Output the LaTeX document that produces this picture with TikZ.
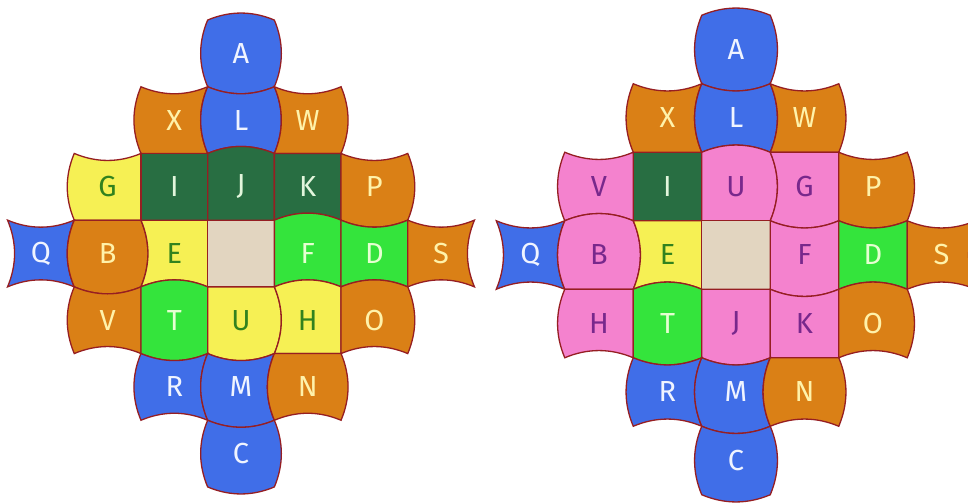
\documentclass[tikz,border=0pt]{standalone}
\usepackage{fontspec}
\setmainfont{Fira Sans}
\definecolor{tblue}{RGB}{64,110,232}
\definecolor{torange}{RGB}{218,128,22}
\definecolor{tyellow}{RGB}{246,240,84}
\definecolor{tdkgreen}{RGB}{40,110,66}
\definecolor{tgreen}{RGB}{52,228,60}
\definecolor{tpink}{RGB}{244,130,206}
\definecolor{ttan}{RGB}{226,213,192}
\definecolor{tedge}{RGB}{150,30,34}
\definecolor{lwhite}{RGB}{240,244,255}
\definecolor{lcream}{RGB}{255,242,170}
\definecolor{lmint}{RGB}{226,246,220}
\definecolor{lgreen}{RGB}{50,130,30}
\definecolor{lpale}{RGB}{230,255,210}
\definecolor{lpurple}{RGB}{120,40,140}
\tikzset{
  tileshape/.style={draw=tedge, line width=1.3pt, line join=miter},
  lbl/.style={font=\fontsize{29}{30}\selectfont, inner sep=0pt}
}
\newcommand\kk{0.14}
\newcommand\tile[9]{%
 \path[tileshape, fill=#7] ({#1-0.5},{#2-0.5})
  .. controls ({#1-0.5+1/3},{#2-0.5-(#3)*\kk}) and ({#1-0.5+2/3},{#2-0.5-(#3)*\kk}) .. ({#1+0.5},{#2-0.5})
  .. controls ({#1+0.5+(#4)*\kk},{#2-0.5+1/3}) and ({#1+0.5+(#4)*\kk},{#2-0.5+2/3}) .. ({#1+0.5},{#2+0.5})
  .. controls ({#1+0.5-1/3},{#2+0.5+(#5)*\kk}) and ({#1+0.5-2/3},{#2+0.5+(#5)*\kk}) .. ({#1-0.5},{#2+0.5})
  .. controls ({#1-0.5-(#6)*\kk},{#2+0.5-1/3}) and ({#1-0.5-(#6)*\kk},{#2+0.5-2/3}) .. cycle;
 \node[lbl, text=#8] (t#1#2) at (#1,#2) {#9};
}
\begin{document}
\begin{tikzpicture}
\useasboundingbox[fill=white] (0pt,0pt) rectangle (968pt,-503pt);
% ---------- left puzzle ----------
\begin{scope}[shift={(241pt,-253.5pt)}, x=66.7pt, y=-66.7pt, name prefix=l-]
\tile{0}{-3}{1}{1}{1}{1}{tblue}{lwhite}{A}
\tile{-1}{-2}{-1}{-1}{0}{1}{torange}{lcream}{X}
\tile{0}{-2}{-1}{1}{-1}{1}{tblue}{lwhite}{L}
\tile{1}{-2}{-1}{1}{0}{-1}{torange}{lcream}{W}
\tile{-2}{-1}{-1}{0}{0}{1}{tyellow}{lgreen}{G}
\tile{-1}{-1}{0}{0}{0}{0}{tdkgreen}{lmint}{I}
\tile{0}{-1}{1}{0}{0}{0}{tdkgreen}{lmint}{J}
\tile{1}{-1}{0}{0}{-1}{0}{tdkgreen}{lmint}{K}
\tile{2}{-1}{-1}{1}{1}{0}{torange}{lcream}{P}
\tile{-3}{0}{-1}{-1}{-1}{-1}{tblue}{lwhite}{Q}
\tile{-2}{0}{0}{1}{1}{1}{torange}{lcream}{B}
\tile{-1}{0}{0}{0}{-1}{-1}{tyellow}{lgreen}{E}
\tile{0}{0}{0}{0}{0}{0}{ttan}{ttan}{}
\tile{1}{0}{1}{0}{-1}{0}{tgreen}{lpale}{F}
\tile{2}{0}{-1}{0}{-1}{0}{tgreen}{lpale}{D}
\tile{3}{0}{-1}{-1}{-1}{0}{torange}{lcream}{S}
\tile{-2}{1}{-1}{0}{-1}{1}{torange}{lcream}{V}
\tile{-1}{1}{1}{0}{1}{0}{tgreen}{lpale}{T}
\tile{0}{1}{0}{1}{1}{0}{tyellow}{lgreen}{U}
\tile{1}{1}{1}{0}{0}{-1}{tyellow}{lgreen}{H}
\tile{2}{1}{1}{1}{-1}{0}{torange}{lcream}{O}
\tile{-1}{2}{-1}{-1}{-1}{1}{tblue}{lwhite}{R}
\tile{0}{2}{-1}{-1}{1}{1}{tblue}{lwhite}{M}
\tile{1}{2}{0}{1}{-1}{1}{torange}{lcream}{N}
\tile{0}{3}{-1}{1}{1}{1}{tblue}{lwhite}{C}
\end{scope}
% ---------- right puzzle ----------
\begin{scope}[shift={(736pt,-255pt)}, x=68.5pt, y=-68.5pt, name prefix=r-]
\tile{0}{-3}{1}{1}{1}{1}{tblue}{lwhite}{A}
\tile{-1}{-2}{-1}{-1}{0}{1}{torange}{lcream}{X}
\tile{0}{-2}{-1}{1}{-1}{1}{tblue}{lwhite}{L}
\tile{1}{-2}{-1}{1}{0}{-1}{torange}{lcream}{W}
\tile{-2}{-1}{-1}{0}{-1}{1}{tpink}{lpurple}{V}
\tile{-1}{-1}{0}{0}{0}{0}{tdkgreen}{lmint}{I}
\tile{0}{-1}{1}{1}{0}{0}{tpink}{lpurple}{U}
\tile{1}{-1}{0}{0}{1}{-1}{tpink}{lpurple}{G}
\tile{2}{-1}{-1}{1}{1}{0}{torange}{lcream}{P}
\tile{-3}{0}{-1}{-1}{-1}{-1}{tblue}{lwhite}{Q}
\tile{-2}{0}{1}{1}{0}{1}{tpink}{lpurple}{B}
\tile{-1}{0}{0}{0}{-1}{-1}{tyellow}{lgreen}{E}
\tile{0}{0}{0}{0}{0}{0}{ttan}{ttan}{}
\tile{1}{0}{-1}{0}{1}{0}{tpink}{lpurple}{F}
\tile{2}{0}{-1}{0}{-1}{0}{tgreen}{lpale}{D}
\tile{3}{0}{-1}{-1}{-1}{0}{torange}{lcream}{S}
\tile{-2}{1}{0}{0}{-1}{1}{tpink}{lpurple}{H}
\tile{-1}{1}{1}{0}{1}{0}{tgreen}{lpale}{T}
\tile{0}{1}{0}{0}{1}{0}{tpink}{lpurple}{J}
\tile{1}{1}{-1}{0}{0}{0}{tpink}{lpurple}{K}
\tile{2}{1}{1}{1}{-1}{0}{torange}{lcream}{O}
\tile{-1}{2}{-1}{-1}{-1}{1}{tblue}{lwhite}{R}
\tile{0}{2}{-1}{-1}{1}{1}{tblue}{lwhite}{M}
\tile{1}{2}{0}{1}{-1}{1}{torange}{lcream}{N}
\tile{0}{3}{-1}{1}{1}{1}{tblue}{lwhite}{C}
\end{scope}
\end{tikzpicture}
\end{document}
